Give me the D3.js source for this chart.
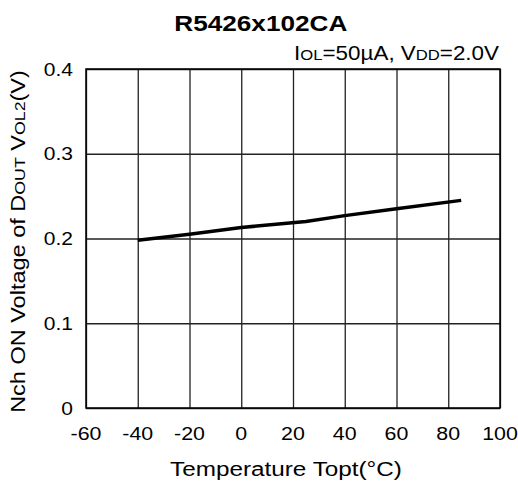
<!DOCTYPE html>
<html><head><meta charset="utf-8">
<script src="https://cdn.jsdelivr.net/npm/d3@7"></script>
<style>body{margin:0;background:#fff}svg{display:block}text{font-family:"Liberation Sans",Arial,Helvetica,sans-serif;fill:#000}</style>
</head><body>
<svg id="c" width="518" height="482"></svg>
<script>
const temps = [-40, -20, 0, 25, 40, 60, 85];
const vol2 = [0.198, 0.205, 0.213, 0.220, 0.227, 0.235, 0.245];
const xTicks = [-60, -40, -20, 0, 20, 40, 60, 80, 100];
const yTicks = [0, 0.1, 0.2, 0.3, 0.4];
const yTickLabels = ["0", "0.1", "0.2", "0.3", "0.4"];

const svg = d3.select("#c");
const m = {l: 86, r: 500, t: 69, b: 408};
const x = d3.scaleLinear().domain([-60, 100]).range([m.l, m.r]);
const y = d3.scaleLinear().domain([0, 0.4]).range([m.b, m.t]);

// grid
svg.append("g").attr("transform", `translate(0,${m.b})`)
  .call(d3.axisBottom(x).tickValues(xTicks).tickSize(-(m.b - m.t)).tickFormat(""))
  .call(g => g.select(".domain").remove())
  .selectAll("line").attr("stroke", "#222").attr("stroke-width", 1.3);
svg.append("g").attr("transform", `translate(${m.l},0)`)
  .call(d3.axisLeft(y).tickValues(yTicks).tickSize(-(m.r - m.l)).tickFormat(""))
  .call(g => g.select(".domain").remove())
  .selectAll("line").attr("stroke", "#222").attr("stroke-width", 1.3);
svg.append("rect").attr("x", m.l).attr("y", m.t).attr("width", m.r - m.l).attr("height", m.b - m.t)
  .attr("fill", "none").attr("stroke", "#000").attr("stroke-width", 1.5);

// helper: place text at (px,py) with horizontal stretch
function place(t, px, py, sx, rot) {
  t.attr("transform", `translate(${px},${py})${rot ? ` rotate(${rot})` : ""} scale(${sx},1)`);
}
function fitWidth(t, px, py, target, rot) {
  const w = t.node().getComputedTextLength();
  place(t, px, py, target / w, rot);
}

// tick labels
svg.append("g").selectAll("text").data(xTicks).join("text")
  .attr("text-anchor", "middle").attr("font-size", 18.6).text(d => d)
  .each(function(d) { place(d3.select(this), x(d), m.b + 32, 1.15); });
svg.append("g").selectAll("text").data(yTicks).join("text")
  .attr("text-anchor", "end").attr("font-size", 18.6).text((d, i) => yTickLabels[i])
  .each(function(d) { place(d3.select(this), m.l - 13, y(d) + 6.6, 1.13); });

// line
svg.append("path").datum(temps.map((t, i) => [t, vol2[i]]))
  .attr("fill", "none").attr("stroke", "#000").attr("stroke-width", 3.5)
  .attr("d", d3.line().x(d => x(d[0])).y(d => y(d[1])));

// title
const title = svg.append("text").attr("text-anchor", "middle")
  .attr("font-size", 22).attr("font-weight", "bold").text("R5426x102CA");
fitWidth(title, 260.8, 31, 173);

// annotation with small caps
const ann = svg.append("text").attr("text-anchor", "end").attr("font-size", 19.5);
[["I",19.5],["OL",14.5],["=50µA, V",19.5],["DD",14.5],["=2.0V",19.5]].forEach(([s, f]) => ann.append("tspan").attr("font-size", f).text(s));
fitWidth(ann, 499, 60, 205);

// x label
const xl = svg.append("text").attr("text-anchor", "middle").attr("font-size", 20).text("Temperature Topt(°C)");
fitWidth(xl, 286, 476, 232);

// y label
const yl = svg.append("text").attr("text-anchor", "middle").attr("font-size", 20.5);
[["Nch ON Voltage of D",20.5],["OUT",15.5],[" V",20.5],["OL2",15.5],["(V)",20.5]].forEach(([s, f]) => yl.append("tspan").attr("font-size", f).text(s));
fitWidth(yl, 25, 241.5, 343, -90);
</script>
</body></html>
